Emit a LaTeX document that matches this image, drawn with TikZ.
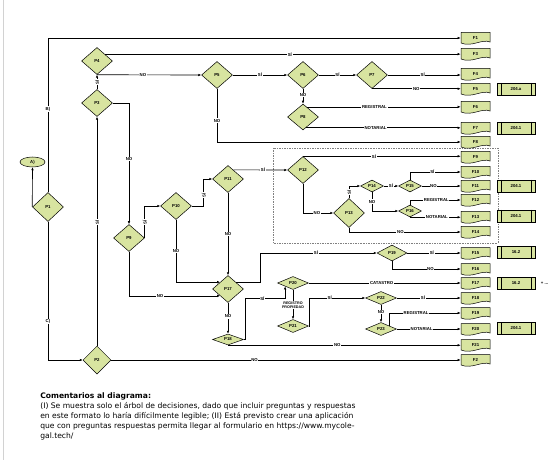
\documentclass[tikz,border=0pt]{standalone}
\usepackage{fontspec}
\setmainfont{Liberation Sans}
\newfontfamily\notefont{DejaVu Sans}
\usepackage{tikz}
\usetikzlibrary{shapes,% diamonds and the ellipse
arrows.meta,% Latex tips
calc}
\definecolor{leaf}{RGB}{216,228,160}
\newcommand{\flowfont}{\fontsize{4.3}{4.8}\selectfont\bfseries}
\tikzset{every node/.style={font=\flowfont},
  question/.style={diamond,draw,fill=leaf,line width=0.5pt,inner sep=0pt,
    minimum width=31pt,minimum height=27pt},
  flatq/.style={question,minimum height=13pt},
  smallq/.style={question,minimum width=23pt,minimum height=12pt},
  form/.style={inner sep=0pt,minimum width=29pt,minimum height=11pt},
  article/.style={draw,fill=leaf,line width=0.5pt,inner sep=0pt,
    minimum width=38pt,minimum height=12pt,
    path picture={\draw ([xshift=4pt]path picture bounding box.north west)
      -- ([xshift=4pt]path picture bounding box.south west)
      ([xshift=-4pt]path picture bounding box.north east)
      -- ([xshift=-4pt]path picture bounding box.south east);}},
  lbl/.style={fill=white,inner sep=0.7pt},
  vlbl/.style={lbl,rotate=90}}

\begin{document}
\begin{tikzpicture}[x=1pt,y=-1pt,>={Latex[length=3pt,width=2.6pt]},line width=0.65pt]
\useasboundingbox (0,0) rectangle (550,460);
\draw[gray!35,line width=0.8pt] (3,0) -- (3,460);
\draw[gray,densely dotted] (273,148) rectangle (498,243);
\foreach \n/\y in {F1/38,F3/54,F4/74,F5/89,F6/107,F7/128,F8/142,F9/157,F10/172,F11/186,
  F12/200,F13/217,F14/232,F15/253,F16/269,F17/283,F18/298,F19/313,F20/329,F21/345,F2/360}
{\draw[fill=leaf,line width=0.5pt] (461,\y-5.5) -- (490,\y-5.5) -- (490,\y+4)
   .. controls (482,\y+0.5) and (472,\y+9.5) .. (461,\y+5) -- cycle;
 \node[form] (\n) at (475.5,\y) {\n};}
\foreach \n/\y/\t in {S5/89/204.a,S7/128/204.1,S11/186/204.1,S13/216/204.1,
  S15/252/16.2,S17/283/16.2,S20/328/204.1}
  \node[article] (\n) at (516,\y) {\t};
\node[anchor=west] (more) at ([xshift=2pt]S17.east) {+ ...};

\node[question] (P4) at (97,61) {P4};
\node[question] (P3) at (97,103) {P3};
\node[question] (P5) at (217,75) {P5};
\node[question] (P6) at (303,75) {P6};
\node[question] (P7) at (372,75) {P7};
\node[question,minimum height=26pt] (P8) at (303,117) {P8};
\node[ellipse,draw,fill=leaf,line width=0.5pt,inner sep=0pt,minimum width=25pt,
  minimum height=10pt] (A) at (32.5,162) {A)};
\node[question,minimum height=29pt] (P1) at (48,207) {P1};
\node[question] (P9) at (129,238) {P9};
\node[question] (P10) at (176,206) {P10};
\node[question] (P11) at (228,179) {P11};
\node[question] (P12) at (303,170) {P12};
\node[question,minimum height=29pt] (P13) at (349,213) {P13};
\node[smallq] (P14) at (372,186) {P14};
\node[smallq] (P15) at (410,186) {P15};
\node[smallq] (P16) at (410,211) {P16};
\node[question] (P17) at (228,289) {P17};
\node[flatq,minimum height=11pt] (P18) at (228,339.5) {P18};
\node[flatq,minimum width=30pt,minimum height=16pt] (P19) at (392,253) {P19};
\node[flatq] (P20) at (293,283) {P20};
\node[flatq] (P21) at (293,326) {P21};
\node[flatq] (P22) at (381,298) {P22};
\node[flatq] (P23) at (381,329) {P23};
\node[question,minimum width=28pt,minimum height=28pt] (P2) at (97,360) {P2};

\draw[->] (P1.north) |- node[lbl,pos=0.27]{B)} (F1.west);
\draw[->] (P1.west) -- (A.south);
\draw[->] (P1.south) |- node[lbl,pos=0.36]{C)} (P2.west);
\draw[->] (P2.north) -- node[vlbl,pos=0.54]{SÍ} (P3.south);
\draw[->] (P2.east) -- node[lbl,pos=0.41]{NO} (F2.west);
\draw[->] (P3.north) -- node[vlbl]{SÍ} (P4.south);
\draw[->] (P3.east) -| node[lbl,pos=0.73]{NO} (P9.north);
\draw[->] (P4.north east) -- node[lbl,pos=0.52]{SÍ} (P4.north east -| F3.west);
\draw[->] (P4.south) -- node[lbl,pos=0.44]{NO} (P5.west);
\draw[->] (P5.east) -- node[lbl]{SÍ} (P6.west);
\draw[->] (P5.south) |- node[lbl,pos=0.3]{NO} (F8.west);
\draw[->] (P6.east) -- node[lbl]{SÍ} (P7.west);
\draw[->] (P6.south) -- node[lbl,pos=0.42]{NO} (P8.north);
\draw[->] (P7.east) -- node[lbl,pos=0.48]{SÍ} (P7.east -| F4.west);
\draw[->] (P7.south) -- node[lbl]{NO} (P7.south -| F5.west);
\draw[->] (P8.70) -- node[lbl,pos=0.44]{REGISTRAL} (P8.70 -| F6.west);
\draw[->] (P8.-75) -- node[lbl,pos=0.45]{NOTARIAL} (P8.-75 -| F7.west);

\draw[->] (P9.east) |- node[vlbl,pos=0.25]{SÍ} (P10.west);
\draw[->] (P9.south) |- node[lbl,pos=0.67]{NO} (P17.south west);
\draw[->] (P10.east) -- ++(12,0) |- node[vlbl,pos=0.2]{SÍ} (P11.west);
\draw[->] (P10.south) |- node[lbl,pos=0.25]{NO} (P17.north west);
\draw[->] (P11.60) -- node[lbl,pos=0.55]{SÍ} (P12.west);
\draw[->] (P11.south) -- node[lbl]{NO} (P17.north);
\draw[->] (P12.north) -- node[lbl,pos=0.45]{SÍ} (P12.north -| F9.west);
\draw[->] (P12.south) |- node[lbl,pos=0.73]{NO} (P13.west);
\draw[->] (P13.north) |- node[vlbl,pos=0.25]{SÍ} (P14.west);
\draw[->] (P13.south) |- node[lbl,pos=0.73]{NO} (F14.west);
\draw[->] (P14.east) -- node[lbl]{SÍ} (P15.west);
\draw[->] (P14.south) |- node[lbl,pos=0.25]{NO} (P16.west);
\draw[->] (P15.north) |- node[lbl,pos=0.72]{SÍ} (F10.west);
\draw[->] (P15.east) -- node[lbl,pos=0.3]{NO} (P15.east -| F11.west);
\draw[->] (P16.north) |- node[lbl,pos=0.76]{REGISTRAL} (F12.west);
\draw[->] (P16.south) -- node[lbl,pos=0.53]{NOTARIAL} (P16.south -| F13.west);

\draw[->] (P17.south) -- node[lbl,pos=0.44]{NO} (P18.north);
\draw[->] (P17.north east) -- ++(24,0) |- node[lbl,pos=0.74]{SÍ} (P19.west);
\draw[->] (P19.east) -- node[lbl,pos=0.46]{SÍ} (P19.east -| F15.west);
\draw[->] (P19.south) |- node[lbl,pos=0.78]{NO} (F16.west);
\draw[->] (P18.east) -- ++(2,0) |- node[lbl,pos=0.71]{SÍ} ($(P20.south west)+(0,12)$)
  -- (P20.south west);
\draw[->] (P18.south) -- node[lbl,pos=0.47]{NO} (P18.south -| F21.west);
\draw[->] (P20.south) -- node[lbl,pos=0.52,align=center,font=\fontsize{3.7}{4.3}\selectfont\bfseries]
  {REGISTRO\\PROPIEDAD} (P21.north);
\draw[->] (P20.east) -- node[lbl,pos=0.48]{CATASTRO} (P20.east -| F17.west);
\draw[->] (P21.east) -- ++(1,0) |- node[lbl,pos=0.68]{SÍ} (P22.west);
\draw[->] (P22.east) -- node[lbl,pos=0.41]{SÍ} (P22.east -| F18.west);
\draw[->] (P22.south) -- node[lbl,pos=0.43]{NO} (P23.north);
\draw[->] (P23.north east) |- node[lbl,pos=0.69]{REGISTRAL} (F19.west);
\draw[->] (P23.east) -- node[lbl,pos=0.39]{NOTARIAL} (P23.east -| F20.west);

\node[anchor=north west,align=left,inner sep=0pt,font=\notefont\fontsize{7.6}{10}\selectfont] (note)
  at (40,392) {\textbf{Comentarios al diagrama:}\\
  (I) Se muestra solo el árbol de decisiones, dado que incluir preguntas y respuestas\\
  en este formato lo haría difícilmente legible; (II) Está previsto crear una aplicación\\
  que con preguntas respuestas permita llegar al formulario en https://www.mycole-\\
  gal.tech/};
\end{tikzpicture}
\end{document}
